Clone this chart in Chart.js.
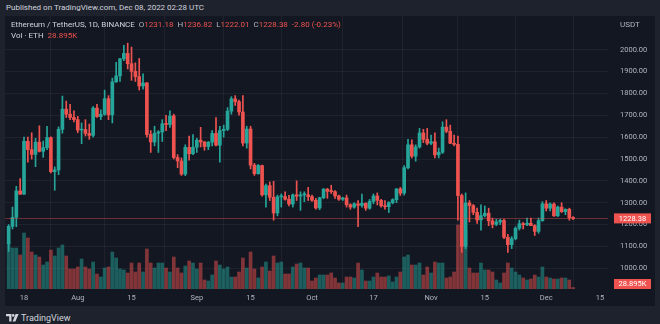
<!DOCTYPE html>
<html>
<head>
<meta charset="utf-8">
<script src="https://cdn.jsdelivr.net/npm/chart.js@4.4.0/dist/chart.umd.min.js"></script>
<style>
  html, body { margin: 0; padding: 0; }
  body { width: 660px; height: 324px; background: #1e222d; position: relative; overflow: hidden;
         font-family: Roboto, "DejaVu Sans", sans-serif; }
  #pane { position: absolute; left: 5px; top: 16px; width: 650px; height: 290px; background: #131722; }
  #chart { position: absolute; left: 0; top: 0; }
  .txt { position: absolute; white-space: nowrap; font-size: 8px; line-height: 10px; color: #d1d4dc; }
  .dim { color: #b2b5be; }
  .red { color: #ef5350; }
</style>
</head>
<body>
<div class="txt" style="left:6px; top:3px;">Published on TradingView.com, Dec 08, 2022 02:28 UTC</div>
<div id="pane">
  <canvas id="chart" width="650" height="290"></canvas>
  <div class="txt" style="left:6px; top:4px;">Ethereum / TetherUS, 1D, BINANCE&nbsp;&nbsp;<span class="dim">O</span><span class="red">1231.18</span>&nbsp;&nbsp;<span class="dim">H</span><span class="red">1236.82</span>&nbsp;&nbsp;<span class="dim">L</span><span class="red">1222.01</span>&nbsp;&nbsp;<span class="dim">C</span><span class="red">1228.38</span>&nbsp;&nbsp;<span class="red">-2.80 (-0.23%)</span></div>
  <div class="txt" style="left:6px; top:15px;">Vol · ETH&nbsp;&nbsp;<span class="red">28.895K</span></div>
  <div class="txt dim" style="left:615px; top:4px;">USDT</div>
</div>
<div class="txt" style="left:6px; top:313px; font-size:9px; line-height:11px;">
  <svg width="13" height="8" viewBox="0 0 13 8" style="vertical-align:-1px; margin-right:2px;">
    <path d="M0 0H5.5V7.5H3.2V2.2H0Z" fill="#d1d4dc"/>
    <circle cx="7.2" cy="1.4" r="1.3" fill="#d1d4dc"/>
    <path d="M9.6 0H12.6L9.4 7.5H6.6Z" fill="#d1d4dc"/>
  </svg>TradingView
</div>

<script>
// ETH/USDT daily candles, Jul 14 - Dec 8 2022
const days = [
  "07-14","07-15","07-16","07-17","07-18","07-19","07-20","07-21","07-22","07-23","07-24","07-25","07-26","07-27","07-28","07-29","07-30","07-31",
  "08-01","08-02","08-03","08-04","08-05","08-06","08-07","08-08","08-09","08-10","08-11","08-12","08-13","08-14","08-15","08-16","08-17","08-18","08-19","08-20","08-21","08-22","08-23","08-24","08-25","08-26","08-27","08-28","08-29","08-30","08-31",
  "09-01","09-02","09-03","09-04","09-05","09-06","09-07","09-08","09-09","09-10","09-11","09-12","09-13","09-14","09-15","09-16","09-17","09-18","09-19","09-20","09-21","09-22","09-23","09-24","09-25","09-26","09-27","09-28","09-29","09-30",
  "10-01","10-02","10-03","10-04","10-05","10-06","10-07","10-08","10-09","10-10","10-11","10-12","10-13","10-14","10-15","10-16","10-17","10-18","10-19","10-20","10-21","10-22","10-23","10-24","10-25","10-26","10-27","10-28","10-29","10-30","10-31",
  "11-01","11-02","11-03","11-04","11-05","11-06","11-07","11-08","11-09","11-10","11-11","11-12","11-13","11-14","11-15","11-16","11-17","11-18","11-19","11-20","11-21","11-22","11-23","11-24","11-25","11-26","11-27","11-28","11-29","11-30",
  "12-01","12-02","12-03","12-04","12-05","12-06","12-07","12-08"
];

const open = [
  1113,1192,1233,1354,1339,1581,1543,1521,1577,1535,1552,1598,1442,1450,1636,1728,1705,1690,
  1680,1632,1635,1617,1608,1733,1694,1705,1776,1702,1853,1880,1958,1983,1936,1901,1877,1834,1848,1612,1578,1618,1624,1661,1658,1697,1507,1491,1431,1553,1524,
  1554,1586,1578,1557,1577,1617,1563,1630,1636,1719,1775,1762,1715,1573,1637,1472,1433,1470,1336,1378,1325,1253,1327,1328,1316,1294,1336,1330,1336,1336,
  1328,1311,1276,1323,1362,1352,1351,1331,1316,1322,1291,1280,1295,1288,1297,1275,1306,1331,1311,1286,1282,1300,1314,1363,1344,1460,1565,1513,1555,1619,1590,
  1572,1579,1519,1531,1646,1627,1572,1567,1333,1100,1299,1287,1256,1221,1241,1252,1217,1201,1212,1219,1142,1108,1135,1183,1204,1199,1206,1195,1169,1218,
  1295,1275,1294,1240,1280,1259,1270,1231.18
];
const high = [
  1200,1280,1375,1410,1600,1600,1620,1595,1652,1582,1650,1601,1464,1647,1788,1765,1750,1720,
  1695,1665,1680,1660,1740,1750,1725,1815,1790,1870,1942,1960,2020,2030,2012,1940,1960,1890,1850,1630,1650,1630,1680,1700,1720,1705,1520,1505,1565,1605,1612,
  1595,1645,1580,1580,1630,1690,1650,1655,1735,1785,1790,1770,1790,1650,1650,1480,1475,1472,1385,1395,1398,1335,1340,1350,1334,1340,1400,1350,1350,1370,
  1335,1320,1325,1365,1366,1380,1355,1335,1325,1335,1295,1300,1310,1340,1300,1315,1340,1345,1315,1310,1305,1318,1365,1370,1470,1590,1588,1565,1640,1636,1640,
  1610,1620,1550,1670,1680,1655,1610,1605,1340,1345,1310,1292,1275,1290,1285,1275,1230,1225,1225,1225,1155,1145,1190,1220,1210,1230,1230,1200,1230,1305,
  1310,1300,1300,1285,1300,1272,1275,1236.82
];
const low = [
  1077,1180,1190,1338,1338,1486,1500,1465,1532,1508,1543,1436,1357,1428,1618,1690,1680,1670,
  1620,1570,1605,1590,1600,1690,1680,1700,1680,1665,1850,1855,1950,1912,1860,1855,1815,1820,1600,1530,1560,1530,1580,1630,1645,1500,1460,1425,1424,1495,1520,
  1530,1555,1540,1543,1560,1560,1485,1600,1630,1705,1745,1700,1560,1550,1455,1425,1430,1330,1280,1310,1220,1240,1280,1312,1285,1280,1310,1265,1305,1310,
  1306,1270,1268,1318,1320,1342,1320,1310,1310,1280,1270,1275,1190,1280,1265,1270,1295,1290,1280,1270,1255,1295,1300,1333,1335,1455,1505,1490,1550,1575,1565,
  1565,1505,1505,1525,1620,1570,1560,1220,1073,1090,1212,1245,1205,1175,1235,1195,1185,1195,1200,1135,1073,1090,1130,1175,1180,1195,1195,1150,1160,1215,
  1262,1262,1237,1237,1255,1245,1220,1222.01
];
const close = [
  1192,1233,1354,1339,1581,1543,1521,1577,1535,1552,1598,1442,1450,1636,1728,1705,1690,1680,
  1632,1635,1617,1608,1733,1694,1705,1776,1702,1853,1880,1958,1983,1936,1901,1877,1834,1848,1612,1578,1618,1624,1661,1658,1697,1507,1491,1431,1553,1524,1554,
  1586,1578,1557,1577,1617,1563,1630,1636,1719,1775,1762,1715,1573,1637,1472,1433,1470,1336,1378,1325,1253,1327,1328,1316,1294,1336,1330,1336,1336,1328,
  1311,1276,1323,1362,1352,1351,1331,1316,1322,1291,1280,1295,1288,1297,1275,1306,1331,1311,1286,1282,1300,1314,1363,1344,1460,1565,1513,1555,1619,1590,1572,
  1579,1519,1531,1646,1627,1572,1567,1333,1100,1299,1287,1256,1221,1241,1252,1217,1201,1212,1219,1142,1108,1135,1183,1204,1199,1206,1195,1169,1218,1295,
  1275,1294,1240,1280,1259,1270,1231.18,1228.38
];
// volume in thousands of ETH
const volume = [
  920,820,820,680,1120,1020,740,680,640,480,540,780,660,820,880,660,400,400,
  440,600,440,400,540,300,240,420,440,740,620,400,380,320,520,340,520,340,800,520,420,520,520,420,340,640,420,320,460,560,520,
  400,520,180,160,280,560,480,400,440,240,240,340,620,420,740,400,220,440,540,360,660,520,540,300,300,440,500,520,420,420,
  160,220,280,280,280,320,220,120,120,240,240,220,520,380,160,160,240,320,240,240,260,140,240,340,640,680,480,480,520,280,440,
  320,540,520,520,220,240,340,1280,1680,1180,420,320,320,520,380,380,340,180,120,320,520,420,340,280,220,180,200,280,240,440,
  240,220,200,200,220,220,180,28.895
];

const tickDays = ["07-18","08-01","08-15","09-01","09-15","10-01","10-17","11-01","11-15","12-01","12-15"];
const tickText = ["18","Aug","15","Sep","15","Oct","17","Nov","15","Dec","15"];
const priceTicks = [1000,1100,1200,1300,1400,1500,1600,1700,1800,1900,2000];

const GREEN = "#26a69a";
const RED = "#ef5350";
const GRID = "rgba(255,255,255,0.05)";
const TXT = "#b2b5be";
const FONT = "Roboto, 'DejaVu Sans', sans-serif";

const ref = Date.UTC(2022, 6, 18);
function dayPos(s) {
    let p = s.split("-").map(Number);
    return (Date.UTC(2022, p[0] - 1, p[1]) - ref) / 86400000;
}

let xs = days.map(dayPos);
let up = close.map((c, i) => c >= open[i]);

let bodyData = xs.map((x, i) => ({ x: x, y: [open[i], close[i]] }));
let wickData = xs.map((x, i) => ({ x: x, y: [low[i], high[i]] }));
let volData = xs.map((x, i) => ({ x: x, y: volume[i] }));

// last price line and the two red tags on the right axis
const lastTags = {
    id: "lastTags",
    afterDatasetsDraw(chart) {
        let ctx = chart.ctx, a = chart.chartArea;
        let y = Math.round(chart.scales.y.getPixelForValue(close[close.length - 1])) + 0.5;
        ctx.save();
        ctx.strokeStyle = "rgba(239,83,80,0.4)";
        ctx.lineWidth = 1;
        ctx.beginPath();
        ctx.moveTo(a.left, y);
        ctx.lineTo(a.right, y);
        ctx.stroke();
        ctx.restore();
    },
    afterDraw(chart) {
        let ctx = chart.ctx, a = chart.chartArea;
        let last = close.length - 1;
        let tags = [
            [close[last].toFixed(2), chart.scales.y.getPixelForValue(close[last])],
            [volume[last].toFixed(3) + "K", Math.min(chart.scales.vol.getPixelForValue(volume[last]), a.bottom - 5)]
        ];
        ctx.save();
        ctx.font = "7.5px " + FONT;
        ctx.textAlign = "center";
        ctx.textBaseline = "middle";
        tags.forEach(t => {
            ctx.fillStyle = RED;
            ctx.fillRect(a.right + 6, t[1] - 5, 37, 10);
            ctx.fillStyle = "#ffffff";
            ctx.fillText(t[0], a.right + 24.5, t[1] + 0.5);
        });
        ctx.restore();
    }
};

new Chart(document.getElementById("chart").getContext("2d"), {
    type: "bar",
    data: {
        datasets: [
            {
                label: "Body",
                data: bodyData,
                yAxisID: "y",
                backgroundColor: up.map(u => u ? GREEN : RED),
                barThickness: 3,
                minBarLength: 1,
                grouped: false,
                order: 1
            },
            {
                label: "Wick",
                data: wickData,
                yAxisID: "y",
                backgroundColor: up.map(u => u ? GREEN : RED),
                barThickness: 1,
                grouped: false,
                order: 2
            },
            {
                label: "Volume",
                data: volData,
                yAxisID: "vol",
                backgroundColor: up.map(u => u ? "rgba(38,166,154,0.5)" : "rgba(239,83,80,0.5)"),
                barThickness: 3,
                grouped: false,
                order: 3
            }
        ]
    },
    options: {
        responsive: false,
        animation: false,
        devicePixelRatio: 1,
        layout: { padding: 0 },
        plugins: { legend: { display: false }, tooltip: { enabled: false } },
        scales: {
            x: {
                type: "linear",
                min: -4.95,
                max: 152.08,
                offset: false,
                grid: { color: GRID, drawTicks: false },
                border: { display: false },
                afterBuildTicks: s => { s.ticks = tickDays.map(d => ({ value: dayPos(d) })); },
                afterFit: s => { s.height = 17; s.paddingLeft = 0; s.paddingRight = 0; },
                ticks: {
                    color: TXT,
                    font: { size: 7.5, family: FONT },
                    padding: 5,
                    maxRotation: 0,
                    autoSkip: false,
                    callback: (v, i) => tickText[i]
                }
            },
            y: {
                position: "right",
                min: 905.3,
                max: 2154.2,
                grid: { color: GRID, drawTicks: false },
                border: { display: false },
                afterBuildTicks: s => { s.ticks = priceTicks.map(v => ({ value: v })); },
                afterFit: s => { s.width = 47; s.paddingTop = 0; s.paddingBottom = 0; },
                ticks: {
                    color: TXT,
                    font: { size: 7.5, family: FONT },
                    padding: 12,
                    callback: v => v.toFixed(2)
                }
            },
            vol: {
                display: false,
                min: 0,
                max: 5460
            }
        }
    },
    plugins: [lastTags]
});
</script>
</body>
</html>
